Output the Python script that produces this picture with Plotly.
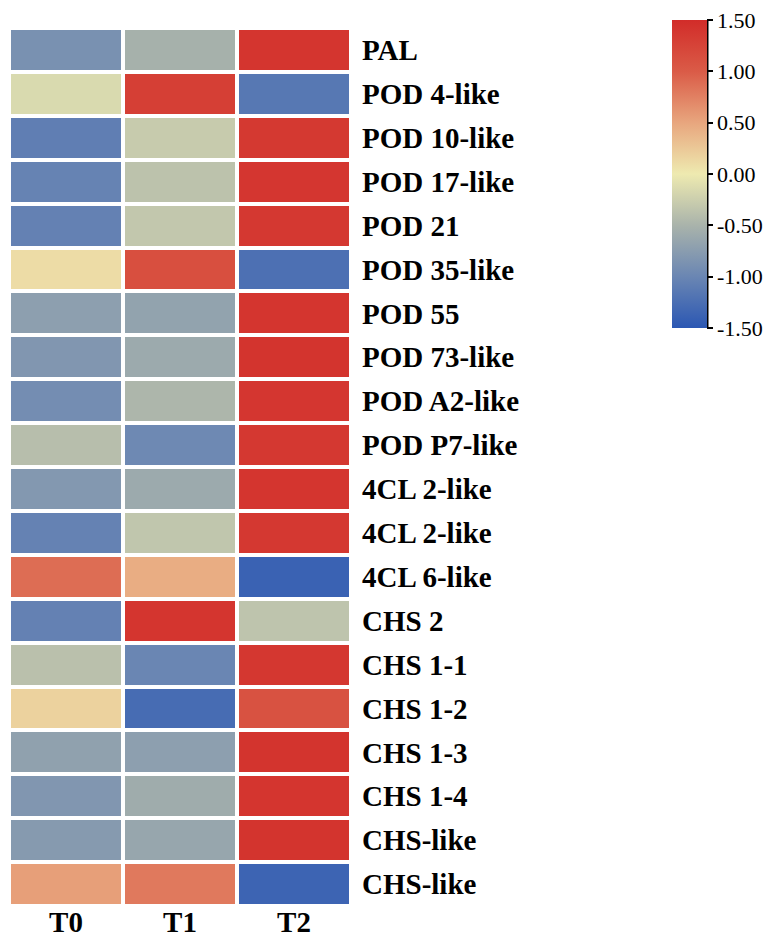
import plotly.graph_objects as go

genes = ["PAL", "POD 4-like", "POD 10-like", "POD 17-like", "POD 21", "POD 35-like",
         "POD 55", "POD 73-like", "POD A2-like", "POD P7-like", "4CL 2-like", "4CL 2-like",
         "4CL 6-like", "CHS 2", "CHS 1-1", "CHS 1-2", "CHS 1-3", "CHS 1-4", "CHS-like", "CHS-like"]
samples = ["T0", "T1", "T2"]
T0 = [-0.88, -0.15, -1.08, -1.03, -1.05, 0.10, -0.72, -0.82, -0.92, -0.40,
      -0.80, -1.04, 0.88, -1.05, -0.38, 0.18, -0.70, -0.82, -0.78, 0.55]
T1 = [-0.52, 1.30, -0.28, -0.36, -0.32, 1.13, -0.68, -0.60, -0.47, -0.97,
      -0.60, -0.33, 0.45, 1.40, -1.00, -1.28, -0.72, -0.58, -0.64, 0.80]
T2 = [1.40, -1.15, 1.36, 1.39, 1.37, -1.23, 1.40, 1.42, 1.39, 1.37,
      1.40, 1.37, -1.38, -0.35, 1.38, 1.10, 1.42, 1.40, 1.42, -1.36]
cb_ticks = [-1.5, -1.0, -0.5, 0.0, 0.5, 1.0, 1.5]

z = [[a, b, c] for a, b, c in zip(T0, T1, T2)]
rows = list(range(len(genes)))

colorscale = [
    [0.0, "#2b57b3"],
    [1/6, "#6a86b3"],
    [2/6, "#a9b3ab"],
    [0.5, "#eeeab0"],
    [4/6, "#e8a67e"],
    [5/6, "#da5b47"],
    [1.0, "#d22c29"],
]

W, H = 763, 940
serif = "Liberation Serif, Times New Roman, serif"

fig = go.Figure(go.Heatmap(
    z=z, x=[0, 1, 2], y=rows,
    zmin=-1.5, zmax=1.5, colorscale=colorscale,
    xgap=4, ygap=4,
    colorbar=dict(
        x=672 / W, xanchor="left", xpad=0,
        y=1 - 174 / H, yanchor="middle", ypad=0,
        len=308, lenmode="pixels",
        thickness=35, thicknessmode="pixels",
        outlinewidth=0,
        tickvals=cb_ticks, ticktext=[f"{v:.2f}" for v in cb_ticks],
        ticks="outside", ticklen=6, tickwidth=2, tickcolor="black",
        tickfont=dict(family=serif, size=22, color="black"),
    ),
))

fig.add_shape(type="line", xref="paper", yref="paper",
              x0=707.5 / W, x1=707.5 / W, y0=1 - 20 / H, y1=1 - 328 / H,
              line=dict(color="black", width=2))

fig.update_layout(
    width=W, height=H,
    margin=dict(l=0, r=0, t=0, b=0),
    paper_bgcolor="white", plot_bgcolor="white",
    xaxis=dict(domain=[9 / W, 351 / W], tickvals=[0, 1, 2], ticktext=samples,
               automargin=False,
               showgrid=False, zeroline=False, showline=False, ticks="",
               ticklabelstandoff=-4,
               tickfont=dict(family=serif, size=29, color="black", weight="bold")),
    yaxis=dict(domain=[1 - 906 / H, 1 - 28 / H], tickvals=rows, ticktext=genes,
               automargin=False,
               autorange="reversed", side="right",
               showgrid=False, zeroline=False, showline=False, ticks="",
               ticklabelstandoff=10,
               tickfont=dict(family=serif, size=29, color="black", weight="bold")),
)

fig.write_html("out.html", config={"displayModeBar": False},
               post_script="document.body.style.margin='0';")
